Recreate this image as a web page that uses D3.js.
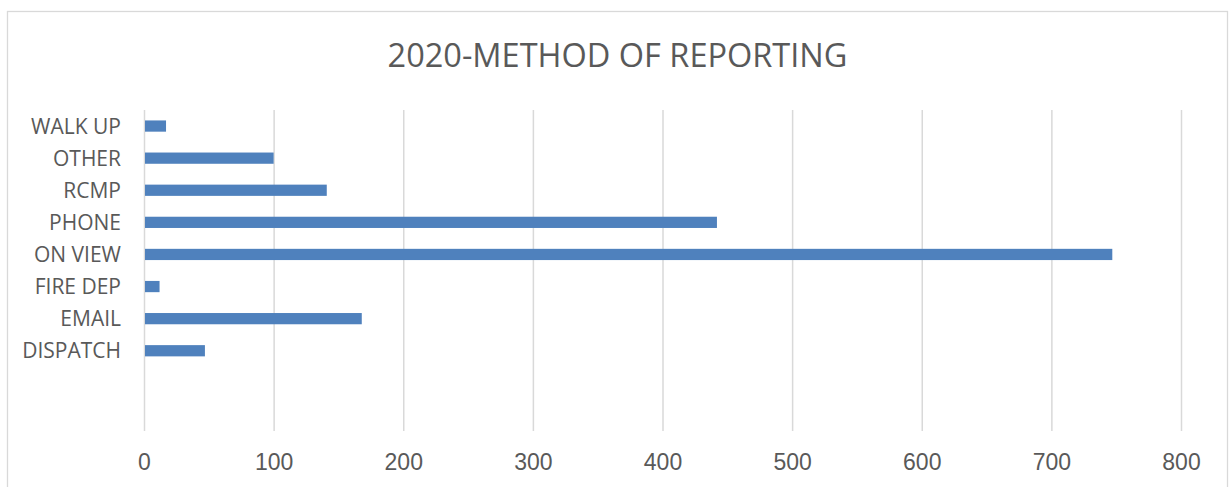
<!DOCTYPE html>
<html>
<head>
<meta charset="utf-8">
<script src="https://cdn.jsdelivr.net/npm/d3@7"></script>
<style>
    body { margin: 0; background: #fff; }
    svg { display: block; font-family: "Open Sans", sans-serif; }
</style>
</head>
<body>
<div id="chart"></div>
<script>
/* data (top to bottom, last two bands are empty in the original) */
var categories = ["WALK UP", "OTHER", "RCMP", "PHONE", "ON VIEW", "FIRE DEP", "EMAIL", "DISPATCH", "", ""],
    values = [17, 100, 141, 442, 747, 12, 168, 47, null, null],
    xTicks = [0, 100, 200, 300, 400, 500, 600, 700, 800],
    title = "2020-METHOD OF REPORTING";

/* graphical parameters */
var width = 1229,
    height = 487,
    plot = { left: 144, right: 1181, top: 110, bottom: 431 },
    barCol = "#4F81BD",
    gridCol = "#d9d9d9",
    textCol = "#595959";

var svg = d3.select("#chart")
    .append("svg")
    .attr("width", width)
    .attr("height", height);

// chart area border
svg.append("rect")
    .attr("x", 7.5)
    .attr("y", 11.5)
    .attr("width", 1220)
    .attr("height", 500)
    .attr("fill", "#fff")
    .attr("stroke", gridCol)
    .attr("stroke-width", 1.3);

svg.append("text")
    .attr("x", 617.5)
    .attr("y", 67)
    .attr("text-anchor", "middle")
    .attr("fill", textCol)
    .style("font-size", "32.5px")
    .text(title);

/* scales */
var x = d3.scaleLinear()
    .domain([0, 800])
    .range([plot.left, plot.right]),
    y = d3.scaleBand()
    .domain(d3.range(categories.length))
    .range([plot.top, plot.bottom])
    .paddingInner(0.65)
    .paddingOuter(0.325);

/* grid */
var xAxis = d3.axisBottom(x)
    .tickValues(xTicks)
    .tickSizeInner(-(plot.bottom - plot.top))
    .tickSizeOuter(0)
    .tickFormat(d3.format("d"));

var xAxisG = svg.append("g")
    .attr("class", "axis x-axis")
    .attr("transform", "translate(0," + plot.bottom + ")")
    .call(xAxis);
xAxisG.select(".domain").remove();
xAxisG.selectAll("line")
    .attr("stroke", gridCol)
    .attr("stroke-width", 1.5);
xAxisG.selectAll("text")
    .attr("fill", textCol)
    .attr("dy", "0.71em")
    .attr("y", 23)
    .style("font-size", "23px");

/* bars */
svg.append("g")
    .attr("class", "bars")
    .selectAll("rect")
    .data(values.map((v, i) => ({ v: v, i: i })).filter(d => d.v != null))
    .join("rect")
    .attr("x", x(0) + 1)
    .attr("y", d => y(d.i))
    .attr("width", d => x(d.v) - x(0) - 1)
    .attr("height", y.bandwidth())
    .attr("fill", barCol);

/* category labels */
svg.append("g")
    .attr("class", "labels")
    .selectAll("text")
    .data(categories)
    .join("text")
    .attr("x", 121)
    .attr("y", (d, i) => y(i) + y.bandwidth() / 2)
    .attr("dy", "0.36em")
    .attr("text-anchor", "end")
    .attr("fill", textCol)
    .style("font-size", "21px")
    .text(d => d);
</script>
</body>
</html>
